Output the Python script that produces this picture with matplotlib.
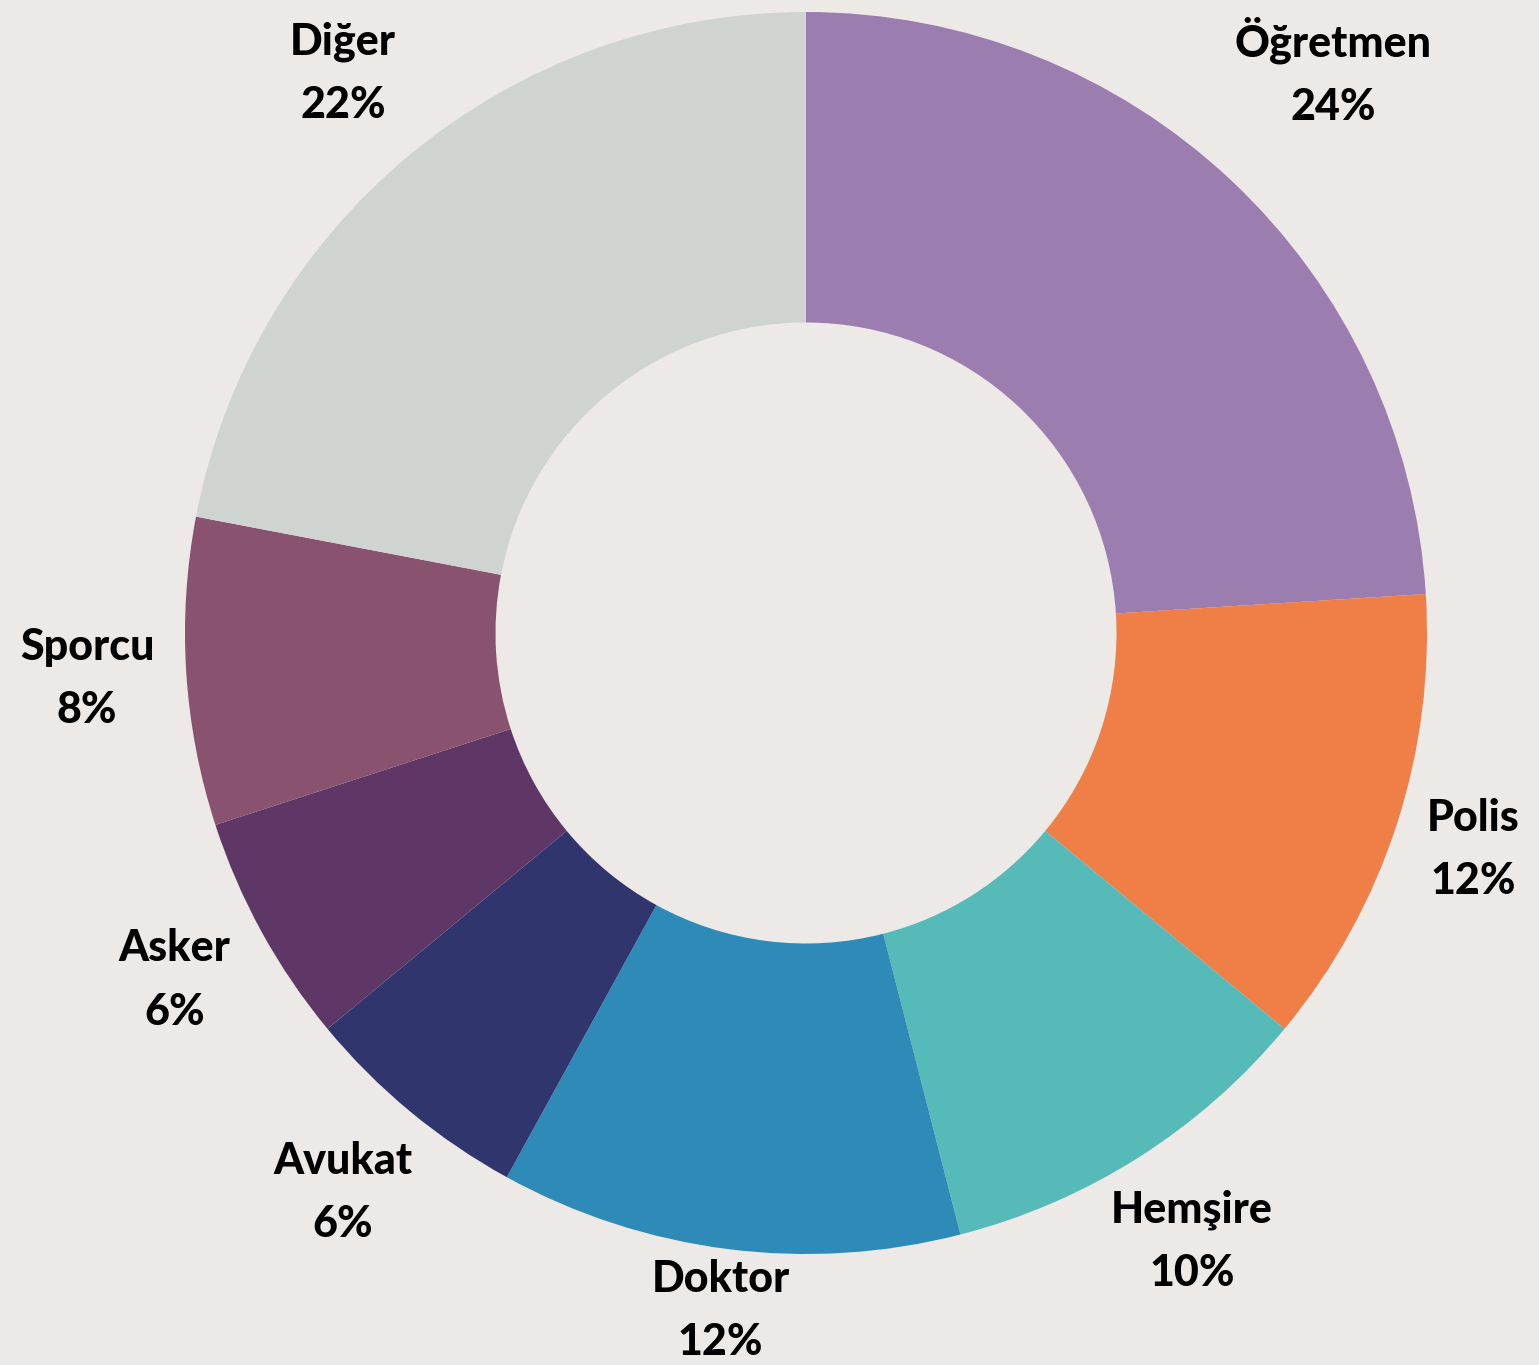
import matplotlib
matplotlib.use("Agg")
import matplotlib.pyplot as plt
import numpy as np

categories = ["Öğretmen", "Polis", "Hemşire", "Doktor", "Avukat", "Asker", "Sporcu", "Diğer"]
values = [24, 12, 10, 12, 6, 6, 8, 22]

colors = ["#9b7db0", "#ef7f47", "#56bbb8", "#2e8bb8", "#31356d", "#5e3766", "#89526f", "#d0d4d1"]
label_dist = [1.24, 1.13, 1.16, 1.10, 1.17, 1.16, 1.16, 1.17]
bg = "#ece9e7"

W, H, dpi = 1539, 1365, 100
fig = plt.figure(figsize=(W / dpi, H / dpi), dpi=dpi, facecolor=bg)
ax = fig.add_axes([0, 0, 1, 1])
ax.set_facecolor(bg)
cx, cy, R = 806, 633, 621
ax.axis("off")

wedges, _ = ax.pie(values, colors=colors, startangle=90, counterclock=False,
                   radius=1.0, wedgeprops=dict(width=0.5, linewidth=0),
                   frame=False)
ax.set_xlim(-cx / R, (W - cx) / R)
ax.set_ylim(-(H - cy) / R, cy / R)
ax.set_aspect("auto")

total = sum(values)
for w, cat, v, d in zip(wedges, categories, values, label_dist):
    ang = np.deg2rad((w.theta1 + w.theta2) / 2)
    x, y = d * np.cos(ang), d * np.sin(ang)
    ax.text(x, y, f"{cat}\n{round(100 * v / total)}%", ha="center", va="center",
            fontsize=31, fontweight="black", family=["Lato", "DejaVu Sans"],
            linespacing=1.7, color="#000000")

fig.savefig("out.png", dpi=dpi, facecolor=bg)
